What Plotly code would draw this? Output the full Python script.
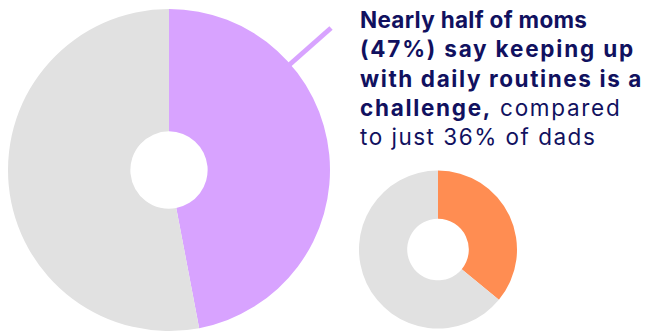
import plotly.graph_objects as go

W, H = 646, 331

moms_labels = ["Moms: challenge", "Moms: other"]
moms_values = [47, 53]
dads_labels = ["Dads: challenge", "Dads: other"]
dads_values = [36, 64]

title_lines = [
    ("Nearly half of moms", ""),
    ("(47%) say keeping up", ""),
    ("with daily routines is a", ""),
    ("challenge,", " compared"),
    ("", "to just 36% of dads"),
]

purple = "#D8A3FF"
orange = "#FF8D52"
gray = "#E1E1E1"
navy = "#11115F"

def px_domain(cx, cy, r):
    return dict(x=[(cx - r) / W, (cx + r) / W],
                y=[max(0, (H - cy - r) / H), (H - cy + r) / H])

fig = go.Figure()
fig.add_trace(go.Pie(
    labels=moms_labels, values=moms_values, hole=0.24, sort=False,
    direction="clockwise", rotation=0, textinfo="none", hoverinfo="label+percent",
    marker=dict(colors=[purple, gray], line=dict(width=0)),
    domain=px_domain(169, 170, 161), showlegend=False))
fig.add_trace(go.Pie(
    labels=dads_labels, values=dads_values, hole=0.39, sort=False,
    direction="clockwise", rotation=0, textinfo="none", hoverinfo="label+percent",
    marker=dict(colors=[orange, gray], line=dict(width=0)),
    domain=px_domain(438, 249.5, 79), showlegend=False))

# leader line
fig.add_shape(type="line", xref="paper", yref="paper",
              x0=288 / W, y0=(H - 66) / H, x1=331 / W, y1=(H - 28) / H,
              line=dict(color=purple, width=5))

spacing = [0.3, 1.8, 1.6, 1.7, 1.5]
parts = []
for (b, r), s in zip(title_lines, spacing):
    seg = ""
    if b:
        seg += "<b>" + b + "</b>"
    seg += r
    parts.append('<span style="letter-spacing:%.2fpx">%s</span>' % (s, seg))
text = "<br>".join(parts)

fig.add_annotation(
    xref="paper", yref="paper", x=358 / W, y=1 - 4 / H, xanchor="left", yanchor="top",
    align="left", showarrow=False, text=text,
    font=dict(family="Inter", size=22.5, color=navy))

fig.update_layout(width=W, height=H, margin=dict(l=0, r=0, t=0, b=0),
                  paper_bgcolor="white", plot_bgcolor="white")
fig.write_html("out.html")
